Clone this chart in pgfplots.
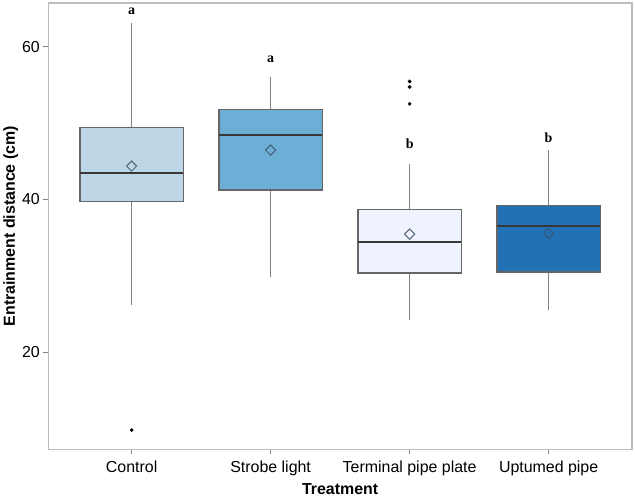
\documentclass[border=0pt]{standalone}
\usepackage{pgfplots}
\pgfplotsset{compat=1.18}
\usepgfplotslibrary{statistics}
\usepackage{fontspec}
\setmainfont{Liberation Sans}
\newfontfamily\letterfont{Liberation Serif}
\definecolor{cA}{HTML}{BDD7E7}
\definecolor{cB}{HTML}{6BAED6}
\definecolor{cC}{HTML}{EFF3FF}
\definecolor{cD}{HTML}{2171B5}
\definecolor{frame}{HTML}{BEBEBE}
\definecolor{boxline}{HTML}{666666}
\definecolor{whisk}{HTML}{838383}
\definecolor{med}{HTML}{383838}
\definecolor{meanc}{HTML}{3C5266}
\begin{document}
\begin{tikzpicture}
\begin{axis}[
  scale only axis, width=586pt, height=448pt,
  xmin=0.4, xmax=4.6, ymin=7.27, ymax=65.7,
  xtick={1,2,3,4},
  xticklabels={Control,Strobe light,Terminal pipe plate,Uptumed pipe},
  ytick={20,40,60},
  xtick pos=left, ytick pos=left,
  tick align=outside, major tick length=5pt,
  tick style={draw=whisk, line width=1pt},
  axis line style={draw=frame, line width=1.2pt},
  ticklabel style={font=\fontsize{16}{18}\selectfont},
  xticklabel style={yshift=-3pt},
  /pgf/number format/assume math mode=true,
  xlabel={Treatment},
  ylabel={Entrainment distance (cm)},
  label style={font=\bfseries\fontsize{16}{18}\selectfont},
  xlabel style={yshift=-1pt},
  ylabel style={yshift=-3pt},
  boxplot/draw direction=y,
  boxplot/box extend=0.743,
  boxplot/whisker extend=0,
  boxplot/every median/.style={draw=med, line width=2pt},
  boxplot/every whisker/.style={draw=whisk, line width=1.2pt},
  boxplot/every box/.style={draw=boxline, line width=1.1pt},
  clip=false,
]
\addplot[fill=cA, draw=boxline, mark=*, mark size=1.7pt, mark options={fill=black, draw=black},
  boxplot prepared={draw position=1, lower whisker=26.22, lower quartile=39.7,
  median=43.49, upper quartile=49.35, upper whisker=63.05}]
  coordinates {(1,9.78)};
\addplot[fill=cB, draw=boxline, mark=*, mark size=1.7pt, mark options={fill=black, draw=black},
  boxplot prepared={draw position=2, lower whisker=29.79, lower quartile=41.22,
  median=48.48, upper quartile=51.74, upper whisker=56.0}]
  coordinates {};
\addplot[fill=cC, draw=boxline, mark=*, mark size=1.7pt, mark options={fill=black, draw=black},
  boxplot prepared={draw position=3, lower whisker=24.22, lower quartile=30.35,
  median=34.43, upper quartile=38.7, upper whisker=44.66}]
  coordinates {(3,55.43) (3,54.70) (3,52.49)};
\addplot[fill=cD, draw=boxline, mark=*, mark size=1.7pt, mark options={fill=black, draw=black},
  boxplot prepared={draw position=4, lower whisker=25.44, lower quartile=30.48,
  median=36.44, upper quartile=39.13, upper whisker=46.4}]
  coordinates {};
% means
\addplot[only marks, mark=square, mark size=3.6pt,
  mark options={rotate=45, draw=meanc, draw opacity=0.85, fill=none, line width=1pt}]
  coordinates {(1,44.35) (2,46.44) (3,35.44) (4,35.53)};
% letters
\node[font=\letterfont\bfseries\fontsize{14}{16}\selectfont] at (axis cs:1,64.65) {a};
\node[font=\letterfont\bfseries\fontsize{14}{16}\selectfont] at (axis cs:2,58.3) {a};
\node[font=\letterfont\bfseries\fontsize{14}{16}\selectfont] at (axis cs:3,47.3) {b};
\node[font=\letterfont\bfseries\fontsize{14}{16}\selectfont] at (axis cs:4,48.0) {b};
\path (rel axis cs:1,1) ++(3pt,3pt) coordinate (pad);
\path (pad) -- (pad);
\end{axis}
\end{tikzpicture}
\end{document}
